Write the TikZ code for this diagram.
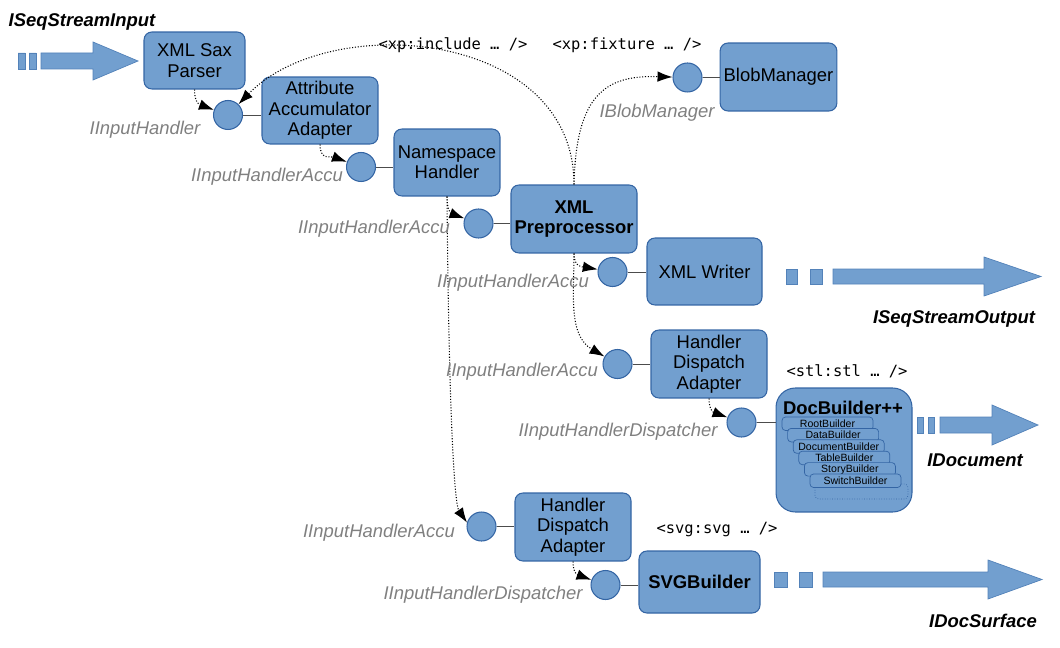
\documentclass[tikz,border=0pt]{standalone}
\usepackage{fontspec}
\setmainfont{Liberation Sans}
\newfontfamily\tagfont{DejaVu Sans Mono}
\usetikzlibrary{arrows.meta}
\definecolor{boxblue}{HTML}{729FCF}
\definecolor{boxline}{HTML}{3465A4}
\definecolor{ifacegray}{RGB}{128,128,128}
\newcommand\boxfont{\fontsize{10.5}{11.6}\selectfont}

\begin{document}
\begin{tikzpicture}[x=0.02cm, y=0.02cm, font=\boxfont,
	block style/.style={rectangle, draw=boxline, fill=boxblue, rounded corners=4.5pt, align=center, line width=0.6pt, inner sep=2pt},
	port style/.style={circle, draw=boxline, fill=boxblue, minimum size=0.58cm, inner sep=0pt, line width=0.6pt},
	builder style/.style={rectangle, draw=boxline, fill=boxblue, rounded corners=2pt, minimum width=1.82cm, minimum height=0.27cm, inner sep=0pt, font=\fontsize{6}{7}\selectfont, line width=0.4pt},
	iface style/.style={font=\boxfont\itshape, text=ifacegray, inner sep=0pt},
	stream label/.style={font=\boxfont\bfseries\itshape, inner sep=0pt},
	tag style/.style={font=\fontsize{8.8}{10}\selectfont\tagfont, inner sep=0pt},
	stream style/.style={fill=boxblue, draw=boxline!50!boxblue, line width=0.4pt},
	dep style/.style={densely dotted, line width=0.6pt, -{Latex[length=8.5pt,width=6pt]}},
	link style/.style={line width=0.5pt, black!70}]
	\useasboundingbox (0,0) rectangle (1060,-648);
	\node[block style, minimum width=2.02cm, minimum height=1.14cm] (Sax) at (194.5,-60.5) {XML Sax\\Parser};
	\node[block style, minimum width=2.32cm, minimum height=1.34cm] (Accu) at (320,-110.5) {Attribute\\Accumulator\\Adapter};
	\node[block style, minimum width=2.12cm, minimum height=1.34cm] (NS) at (447,-162.5) {Namespace\\Handler};
	\node[block style, minimum width=2.52cm, minimum height=1.36cm, font=\boxfont\bfseries] (Pre) at (574,-219) {XML\\Preprocessor};
	\node[block style, minimum width=2.3cm, minimum height=1.36cm] (Blob) at (778.5,-77) {BlobManager};
	\node[block style, minimum width=2.3cm, minimum height=1.34cm] (Writer) at (704.5,-271.5) {XML Writer};
	\node[block style, minimum width=2.32cm, minimum height=1.36cm] (Disp1) at (709,-364) {Handler\\Dispatch\\Adapter};
	\node[block style, minimum width=2.72cm, minimum height=2.48cm, rounded corners=11pt] (Doc) at (844,-450) {};
	\node[font=\boxfont\bfseries, inner sep=0pt] (DocTitle) at (843,-408) {DocBuilder++};
	\node[block style, minimum width=2.32cm, minimum height=1.36cm] (Disp2) at (573,-527) {Handler\\Dispatch\\Adapter};
	\node[block style, minimum width=2.42cm, minimum height=1.24cm, font=\boxfont\bfseries] (SVG) at (699.5,-582) {SVGBuilder};
	\draw[boxline, densely dotted, rounded corners=2pt] (815,-484) rectangle (908,-499);
	\foreach \name [count=\i from 0] in {RootBuilder, DataBuilder, DocumentBuilder, TableBuilder, StoryBuilder, SwitchBuilder}
		\node[builder style] (B\i) at (827.5+5.6*\i, -423.75-11.4*\i) {\name};
	\node[port style] (P1) at (228,-115) {};
	\node[port style] (P2) at (361,-167) {};
	\node[port style] (P3) at (478.5,-223.5) {};
	\node[port style] (PBlob) at (687.5,-77.5) {};
	\node[port style] (PWriter) at (612.5,-272) {};
	\node[port style] (PDisp1) at (617.5,-364) {};
	\node[port style] (PDoc) at (741.5,-422.5) {};
	\node[port style] (PDisp2) at (481.5,-526.5) {};
	\node[port style] (PSVG) at (605.5,-585) {};
	\draw[link style] (P1) -- (P1 -| Accu.west);
	\draw[link style] (P2) -- (P2 -| NS.west);
	\draw[link style] (P3) -- (P3 -| Pre.west);
	\draw[link style] (PBlob) -- (PBlob -| Blob.west);
	\draw[link style] (PWriter) -- (PWriter -| Writer.west);
	\draw[link style] (PDisp1) -- (PDisp1 -| Disp1.west);
	\draw[link style] (PDoc) -- (PDoc -| Doc.west);
	\draw[link style] (PDisp2) -- (PDisp2 -| Disp2.west);
	\draw[link style] (PSVG) -- (PSVG -| SVG.west);
	\draw[dep style] (Sax.south) to[out=-90, in=160, looseness=1.3] (P1);
	\draw[dep style] (Accu.south) to[out=-90, in=160, looseness=1.3] (P2);
	\draw[dep style] (NS.south) to[out=-90, in=160, looseness=1.3] (P3);
	\draw[dep style] (NS.south) .. controls (449,-430) and (455,-505) .. (PDisp2.165);
	\draw[dep style] (Pre.south) to[out=-90, in=170, looseness=1.3] (PWriter);
	\draw[dep style] (Pre.south) to[out=-90, in=150] (PDisp1);
	\draw[dep style] (Pre.north) .. controls (574,-30) and (330,-10) .. (P1);
	\draw[dep style] (Pre.north) .. controls (576,-95) and (605,-75) .. (PBlob);
	\draw[dep style] (Disp1.south) to[out=-90, in=160, looseness=1.3] (PDoc);
	\draw[dep style] (Disp2.south) to[out=-90, in=160, looseness=1.3] (PSVG);
	\node[iface style] (LHandler) at (145,-130) {IInputHandler};
	\node[iface style] (LAccu1) at (267,-177) {IInputHandlerAccu};
	\node[iface style] (LAccu2) at (374,-229) {IInputHandlerAccu};
	\node[iface style] (LAccu3) at (513,-283) {IInputHandlerAccu};
	\node[iface style] (LAccu4) at (522,-372) {IInputHandlerAccu};
	\node[iface style] (LDisp1) at (618,-432) {IInputHandlerDispatcher};
	\node[iface style] (LAccu5) at (379,-533) {IInputHandlerAccu};
	\node[iface style] (LDisp2) at (483,-595) {IInputHandlerDispatcher};
	\node[iface style] (LBlob) at (657,-113) {IBlobManager};
	\node[stream label] (LIn) at (82,-22) {ISeqStreamInput};
	\node[stream label] (LOut) at (954,-319) {ISeqStreamOutput};
	\node[stream label] (LDoc) at (975,-460) {IDocument};
	\node[stream label] (LSurf) at (983,-621) {IDocSurface};
	\node[tag style] (TInclude) at (453,-45) {<xp:include … />};
	\node[tag style] (TFixture) at (627,-45) {<xp:fixture … />};
	\node[tag style] (TStl) at (847,-371) {<stl:stl … />};
	\node[tag style] (TSvg) at (717,-530) {<svg:svg … />};
	\draw[stream style] (18,-53) rectangle (25,-69) (29,-53) rectangle (36,-69);
	\draw[stream style] (41,-53) -- (93,-53) -- (93,-42) -- (138,-61) -- (93,-80) -- (93,-69) -- (41,-69) -- cycle;
	\draw[stream style] (786,-269) rectangle (797,-284) (810,-269) rectangle (822,-284);
	\draw[stream style] (833,-269) -- (984,-269) -- (984,-257) -- (1041,-276.5) -- (984,-296) -- (984,-284) -- (833,-284) -- cycle;
	\draw[stream style] (917,-417) rectangle (923,-433) (928,-417) rectangle (934,-433);
	\draw[stream style] (940,-417) -- (992,-417) -- (992,-405) -- (1038,-425) -- (992,-445) -- (992,-433) -- (940,-433) -- cycle;
	\draw[stream style] (774,-572) rectangle (787,-587) (799,-572) rectangle (812,-587);
	\draw[stream style] (823,-572) -- (988,-572) -- (988,-560) -- (1042,-579.5) -- (988,-599) -- (988,-587) -- (823,-587) -- cycle;
\end{tikzpicture}
\end{document}
